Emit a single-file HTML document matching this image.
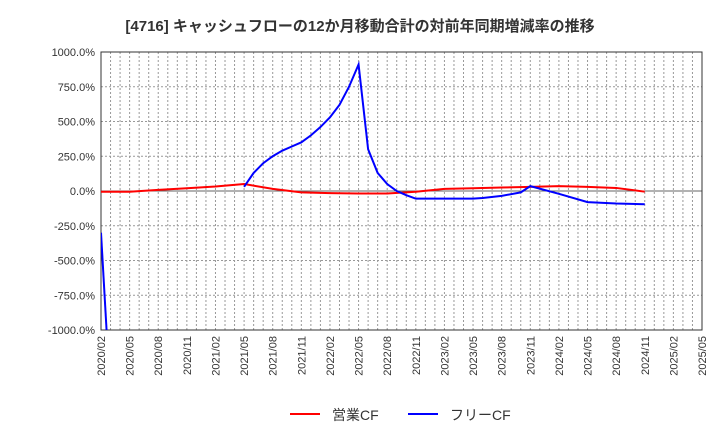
<!DOCTYPE html>
<html><head><meta charset="utf-8"><style>
body{margin:0;background:#fff;font-family:"Liberation Sans","Noto Sans CJK JP",sans-serif}
</style></head><body>
<svg width="720" height="440" xmlns="http://www.w3.org/2000/svg">
<text x="360" y="31" text-anchor="middle" font-size="15" font-weight="bold" fill="#333" font-family="Liberation Sans, Noto Sans CJK JP, sans-serif">[4716]  キャッシュフローの12か月移動合計の対前年同期増減率の推移</text>
<g id="grid"></g><g id="axes"></g>
<defs><clipPath id="pc"><rect x="101" y="52" width="601" height="278"/></clipPath></defs>
<g id="series" clip-path="url(#pc)"></g>
<g>
<line x1="290" y1="414" x2="320" y2="414" stroke="#f00" stroke-width="2"/>
<text x="332" y="420" font-size="14" fill="#333">営業CF</text>
<line x1="408" y1="414" x2="438" y2="414" stroke="#00f" stroke-width="2"/>
<text x="450" y="420" font-size="14" fill="#333">フリーCF</text>
</g>
</svg>
<script>
const yTicks=[1000,750,500,250,0,-250,-500,-750,-1000];
const xLabels=["2020/02","2020/05","2020/08","2020/11","2021/02","2021/05","2021/08","2021/11","2022/02","2022/05","2022/08","2022/11","2023/02","2023/05","2023/08","2023/11","2024/02","2024/05","2024/08","2024/11","2025/02","2025/05"];
const redMonths=[0,3,6,9,12,15,18,21,24,27,30,33,36,39,42,45,48,51,54,57];
const redValues=[-5,-5,8,20,32,50,15,-10,-15,-18,-18,-5,15,20,25,30,35,30,22,-5];
const blueMonths=[0,1,null,15,16,17,18,19,20,21,22,23,24,25,26,27,28,29,30,31,32,33,36,39,40,42,44,45,48,51,54,57];
const blueValues=[-300,-1500,null,30,130,200,250,290,320,350,400,460,530,620,750,910,300,130,50,0,-30,-55,-55,-55,-50,-35,-10,35,-20,-80,-90,-95];
const X0=101,X1=702,Y0=52,Y1=330,NM=63;
const xs=m=>X0+(X1-X0)*m/NM;
const ys=v=>Y0+(Y1-Y0)*(1000-v)/2000;
const NS="http://www.w3.org/2000/svg";
function mk(t,a,p){const e=document.createElementNS(NS,t);for(const k in a)e.setAttribute(k,a[k]);p.appendChild(e);return e;}
const g=document.getElementById('grid'),ax=document.getElementById('axes'),s=document.getElementById('series');
for(let m=1;m<NM;m++){const l=mk('line',{x1:xs(m),x2:xs(m),y1:Y0,y2:Y1,stroke:'#999','stroke-dasharray':'2,2','stroke-width':1},g);

}
yTicks.forEach(v=>{const y=ys(v);
const l=mk('line',{x1:X0,x2:X1,y1:y,y2:y,stroke:v===0?'#666':'#999','stroke-dasharray':v===0?'':'2,2','stroke-width':1},g);


const t=mk('text',{x:X0-6,y:y+4,'text-anchor':'end','font-size':11,fill:'#333'},ax);


t.textContent=v.toFixed(1)+'%';});
xLabels.forEach((lab,i)=>{const x=xs(i*3);
const t=mk('text',{x:x+4,y:Y1+6,'text-anchor':'end','font-size':11,fill:'#333',transform:`rotate(-90 ${x+4} ${Y1+6})`},ax);


t.textContent=lab;});
const fr=mk('rect',{x:X0,y:Y0,width:X1-X0,height:Y1-Y0,fill:'none',stroke:'#333'},ax);


function line(ms,vs,col,name){let segs=[],cur=[];ms.forEach((m,i)=>{if(m===null||vs[i]===null){if(cur.length)segs.push(cur);cur=[];}else cur.push(xs(m)+','+ys(vs[i]));});if(cur.length)segs.push(cur);
segs.forEach(sg=>{const p=mk('polyline',{points:sg.join(' '),fill:'none',stroke:col,'stroke-width':2},s);

});}
line(redMonths,redValues,'#f00','operating-cf-line');
line(blueMonths,blueValues,'#00f','free-cf-line');
</script>
</body></html>
